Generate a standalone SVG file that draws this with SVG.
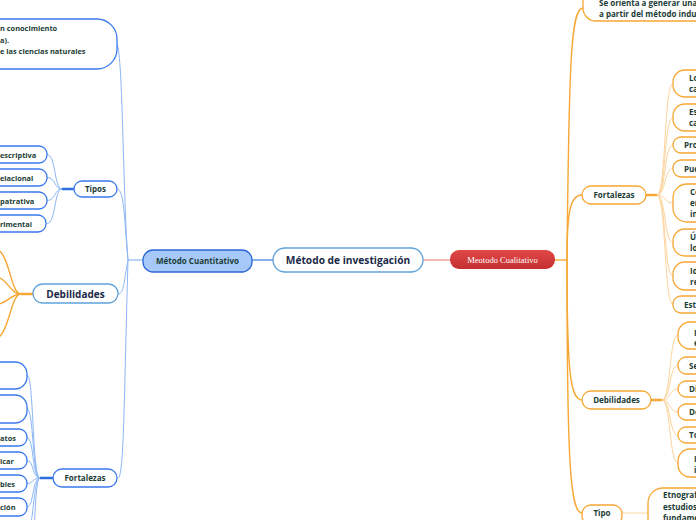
<svg xmlns="http://www.w3.org/2000/svg" width="696" height="520" viewBox="0 0 696 520">
<defs>
<linearGradient id="redg" x1="0" y1="0" x2="0" y2="1">
<stop offset="0" stop-color="#e24848"/>
<stop offset="1" stop-color="#c33030"/>
</linearGradient>
<style>
text{font-family:"Open Sans","Noto Sans","Liberation Sans",sans-serif;font-weight:700;fill:#1b3c36;font-size:8px}
.s{font-size:7.4px}
.bn{fill:#fff;stroke:#3a78ee;stroke-width:1.3}
.on{fill:#fff;stroke:#f7a733;stroke-width:1.3}
.bl{fill:none;stroke:#8db6f5;stroke-width:1}
.bt{fill:none;stroke:#8db6f5;stroke-width:1.2}
.bk{fill:none;stroke:#2f6fe0;stroke-width:2.5}
.ol{fill:none;stroke:#fcd49d;stroke-width:1}
.ot{fill:none;stroke:#f7a733;stroke-width:1.4}
.ok{fill:none;stroke:#f7a733;stroke-width:2.5}
.c{text-anchor:middle}
.e{text-anchor:end}
</style>
</defs>
<rect width="696" height="520" fill="#fff"/>

<g id="connectors">
<path d="M252,260 L273,260" stroke="#3b7be0" stroke-width="1.2" fill="none"/>
<path d="M423,260 L450,260" stroke="#f08a8a" stroke-width="1.2" fill="none"/>
<path class="bt" d="M143,260 L128,260"/>
<path class="bl" d="M128,260 C123,200 123,56 117,44"/>
<path class="bl" d="M128,260 C124,215 124,189 117,189"/>
<path class="bl" d="M128,260 C124,280 124,294 118,294"/>
<path class="bl" d="M128,260 C124,400 124,478 118,478"/>
<path class="bk" d="M74,189 L62,189"/>
<path class="bl" d="M62,189 C54,189 56,154.5 47,154.5"/>
<path class="bl" d="M62,189 C54,189 56,177.5 47,177.5"/>
<path class="bl" d="M62,189 C54,189 56,200.5 47,200.5"/>
<path class="bl" d="M62,189 C54,189 56,223.5 47,223.5"/>
<path class="ok" d="M33,294 L21,294"/>
<path class="ot" d="M21,294 C10,294 10,250 -6,248"/>
<path class="ot" d="M21,294 C10,294 8,278 -6,276"/>
<path class="ot" d="M21,294 C10,294 8,304 -6,305"/>
<path class="ot" d="M21,294 C10,294 10,336 -6,340"/>
<path class="bk" d="M53,478 L40,478"/>
<path class="bl" d="M40,478 C32,478 34,375 27,375"/>
<path class="bl" d="M40,478 C32,478 34,409 27,409"/>
<path class="bl" d="M40,478 C32,478 34,437.5 27,437.5"/>
<path class="bl" d="M40,478 C32,478 34,460.5 27,460.5"/>
<path class="bl" d="M40,478 C32,478 34,483.5 27,483.5"/>
<path class="bl" d="M40,478 C32,478 34,507 27,507"/>
<path class="bl" d="M40,478 C33,478 34,530 27,532"/>
<path class="bl" d="M40,478 C34,478 36,545 30,560"/>
<path class="ot" d="M555,260 L567,260"/>
<path class="ot" d="M567,260 C569,60 571,8 583,8"/>
<path class="ot" d="M567,260 C567,212 570,195 582,195"/>
<path class="ot" d="M567,260 C567,370 570,400 582,400"/>
<path class="ot" d="M567,260 C567,460 570,513 582,513"/>
<path class="ok" d="M646,195 L657,195"/>
<path class="ol" d="M657,195 C666,195 664,83.5 673,83.5"/>
<path class="ol" d="M657,195 C666,195 664,117.5 673,117.5"/>
<path class="ol" d="M657,195 C666,195 664,145 673,145"/>
<path class="ol" d="M657,195 C666,195 664,168.5 673,168.5"/>
<path class="ol" d="M657,195 C666,195 664,203 673,203"/>
<path class="ol" d="M657,195 C666,195 664,242.5 673,242.5"/>
<path class="ol" d="M657,195 C666,195 664,276 673,276"/>
<path class="ol" d="M657,195 C666,195 664,304.5 673,304.5"/>
<path class="ok" d="M651,400 L662,400"/>
<path class="ol" d="M662,400 C671,400 669,335 678,335"/>
<path class="ol" d="M662,400 C671,400 669,365.5 678,365.5"/>
<path class="ol" d="M662,400 C671,400 669,389 678,389"/>
<path class="ol" d="M662,400 C671,400 669,412 678,412"/>
<path class="ol" d="M662,400 C671,400 669,435 678,435"/>
<path class="ol" d="M662,400 C671,400 669,463 678,463"/>
<path class="ol" d="M622,513 L648,513" stroke-width="1.5"/>
</g>

<g id="center">
<rect x="273" y="248" width="150" height="24" rx="12" fill="#fff" stroke="#5fa2dc" stroke-width="1.3"/>
<text x="348" y="264" class="c" style="font-size:10.2px;fill:#1b2a48">Método de investigación</text>
</g>

<g id="cuantitativo">
<rect x="143" y="250" width="109" height="22" rx="10" fill="#a6c9fa" stroke="#2c67d8" stroke-width="1.3"/>
<text x="197.5" y="264" class="c">Método Cuantitativo</text>
</g>

<g id="cualitativo">
<rect x="450" y="250" width="105" height="19" rx="9" fill="url(#redg)"/>
<text x="502.5" y="263" class="c" style="font-family:'Liberation Serif','DejaVu Serif',serif;font-weight:400;fill:#fff;font-size:8.5px">Meotodo Cualitativo</text>
</g>

<g id="cuanti-def">
<rect class="bn" x="-40" y="19" width="157" height="50" rx="20"/>
<text x="0" y="31" class="s">n conocimiento</text>
<text x="0" y="42.5" class="s">a).</text>
<text x="0" y="54" class="s">e las ciencias naturales</text>
</g>

<g id="tipos">
<rect class="bn" x="74" y="181" width="43" height="16" rx="8"/>
<text x="95.5" y="192" class="c">Tipos</text>
</g>
<g id="tipo-descriptiva">
<rect class="bn" x="-20" y="146" width="67" height="17" rx="8"/>
<text x="0" y="157.5" class="s">escriptiva</text>
</g>
<g id="tipo-correlacional">
<rect class="bn" x="-20" y="169" width="67" height="17" rx="8"/>
<text x="0" y="180.5" class="s">elacional</text>
</g>
<g id="tipo-comparativa">
<rect class="bn" x="-20" y="192" width="67" height="17" rx="8"/>
<text x="0" y="203.5" class="s">patrativa</text>
</g>
<g id="tipo-experimental">
<rect class="bn" x="-20" y="215" width="66" height="17" rx="8"/>
<text x="0" y="226.5" class="s">rimental</text>
</g>

<g id="debilidades-left">
<rect x="33" y="284" width="85" height="19" rx="9.5" fill="#fff" stroke="#5fa2dc" stroke-width="1.3"/>
<text x="75.5" y="297.5" class="c" style="font-size:10px;fill:#1b2a48">Debilidades</text>
</g>

<g id="fortalezas-left">
<rect class="bn" x="53" y="469" width="64" height="18" rx="9"/>
<text x="85" y="481" class="c">Fortalezas</text>
</g>
<g id="fl1"><rect class="bn" x="-30" y="362" width="57" height="27" rx="12"/></g>
<g id="fl2"><rect class="bn" x="-30" y="395" width="57" height="28" rx="12"/></g>
<g id="fl3"><rect class="bn" x="-30" y="429" width="57" height="17" rx="8"/><text x="0" y="440.5" class="s">atos</text></g>
<g id="fl4"><rect class="bn" x="-30" y="452" width="57" height="17" rx="8"/><text x="0" y="463.5" class="s">icar</text></g>
<g id="fl5"><rect class="bn" x="-30" y="475" width="57" height="17" rx="8"/><text x="0" y="486.5" class="s">bles</text></g>
<g id="fl6"><rect class="bn" x="-30" y="498" width="57" height="18" rx="8"/><text x="0" y="510" class="s">ción</text></g>

<g id="cuali-def">
<rect class="on" x="583" y="-15" width="150" height="36" rx="13"/>
<text x="599" y="6">Se orienta a generar una</text>
<text x="599" y="17">a partir del método indu</text>
</g>

<g id="fortalezas-right">
<rect class="on" x="582" y="186" width="64" height="18" rx="9"/>
<text x="614" y="198" class="c">Fortalezas</text>
</g>
<g id="fr1"><rect class="on" x="673" y="70" width="60" height="27" rx="12"/><text x="689" y="81">Lo</text><text x="689" y="92">ca</text></g>
<g id="fr2"><rect class="on" x="673" y="104" width="60" height="27" rx="12"/><text x="689" y="115">Es</text><text x="689" y="126">ca</text></g>
<g id="fr3"><rect class="on" x="673" y="137" width="60" height="16" rx="8"/><text x="684" y="148">Pro</text></g>
<g id="fr4"><rect class="on" x="673" y="160" width="60" height="17" rx="8"/><text x="684" y="171.5">Pue</text></g>
<g id="fr5"><rect class="on" x="673" y="184" width="60" height="38" rx="14"/><text x="690" y="195">Co</text><text x="690" y="206">en</text><text x="690" y="217">in</text></g>
<g id="fr6"><rect class="on" x="673" y="229" width="60" height="27" rx="12"/><text x="690" y="239.5">Ú</text><text x="690" y="251">lo</text></g>
<g id="fr7"><rect class="on" x="673" y="262" width="60" height="28" rx="12"/><text x="690" y="273.5">Id</text><text x="690" y="285">re</text></g>
<g id="fr8"><rect class="on" x="673" y="296" width="60" height="17" rx="8"/><text x="684" y="307.5">Est</text></g>

<g id="debilidades-right">
<rect class="on" x="582" y="391" width="69" height="18" rx="9"/>
<text x="616.5" y="403" class="c">Debilidades</text>
</g>
<g id="dr1"><rect class="on" x="678" y="322" width="60" height="27" rx="12"/><text x="694" y="336">I</text><text x="694" y="346">e</text></g>
<g id="dr2"><rect class="on" x="678" y="357" width="60" height="17" rx="8"/><text x="689" y="368.5">Se</text></g>
<g id="dr3"><rect class="on" x="678" y="381" width="60" height="16" rx="8"/><text x="689" y="392">Di</text></g>
<g id="dr4"><rect class="on" x="678" y="404" width="60" height="16" rx="8"/><text x="689" y="415">De</text></g>
<g id="dr5"><rect class="on" x="678" y="427" width="60" height="16" rx="8"/><text x="689" y="438">To</text></g>
<g id="dr6"><rect class="on" x="678" y="449" width="60" height="28" rx="12"/><text x="694" y="462">I</text><text x="694" y="473">i</text></g>

<g id="tipo-right">
<rect class="on" x="582" y="505" width="40" height="20" rx="9"/>
<text x="602" y="516" class="c">Tipo</text>
</g>
<g id="tipo-etno">
<rect class="on" x="648" y="488" width="80" height="50" rx="15"/>
<text x="663" y="498">Etnograf</text>
<text x="663" y="510">estudios</text>
<text x="663" y="521">fundame</text>
</g>
</svg>
